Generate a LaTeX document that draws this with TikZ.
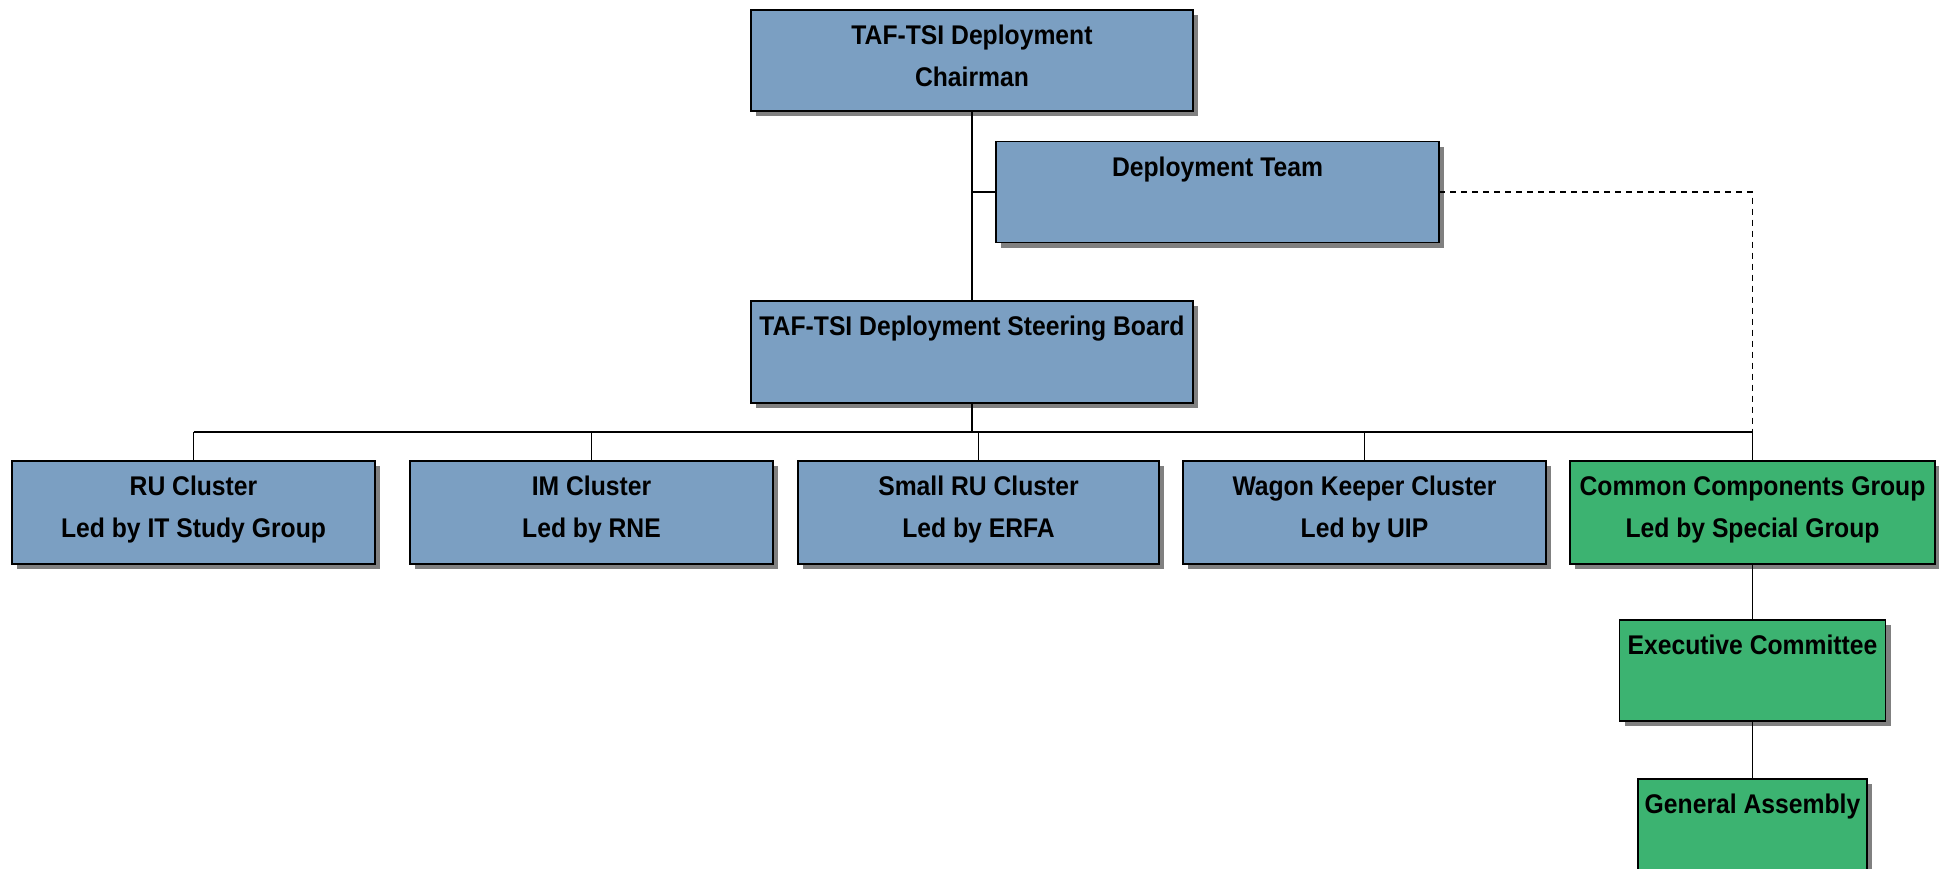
\documentclass[tikz,border=0pt]{standalone}
\usepackage{fontspec}
\setmainfont{Liberation Sans}[FakeStretch=0.915]
\usetikzlibrary{shadows}
\definecolor{boxblue}{RGB}{123,159,194}
\definecolor{boxgreen}{RGB}{60,179,113}
\tikzset{
  orgbox/.style={rectangle, draw=black, line width=1.5pt, inner sep=0pt, outer sep=0pt,
    drop shadow={shadow xshift=5pt, shadow yshift=-5pt, fill=black!50, opacity=1}},
  bluebox/.style={orgbox, fill=boxblue},
  greenbox/.style={orgbox, fill=boxgreen},
  lbl/.style={anchor=north, inner sep=0pt, yshift=-15pt, align=center},
  conn/.style={draw=black, line width=1.3pt},
  dashconn/.style={draw=black, line width=1.1pt, dash pattern=on 6pt off 5pt}
}
\begin{document}
\begin{tikzpicture}[x=1pt, y=-1pt, font=\fontsize{27}{42}\selectfont\bfseries]
\useasboundingbox (0,0) rectangle (1939,868);
\clip (0,0) rectangle (1939,868);
% top level
\node[bluebox, minimum width=442pt, minimum height=101pt,
  label={[lbl]north:{TAF-TSI Deployment\\Chairman}}] (chair) at (972,60.5) {};
\node[bluebox, minimum width=443pt, minimum height=101pt,
  label={[lbl]north:{Deployment Team}}] (team) at (1217.5,192) {};
\node[bluebox, minimum width=442pt, minimum height=102pt,
  label={[lbl]north:{TAF-TSI Deployment Steering Board}}] (board) at (972,352) {};
% clusters
\node[bluebox, minimum width=363pt, minimum height=103pt,
  label={[lbl]north:{RU Cluster\\Led by IT Study Group}}] (ru) at (193.5,512.5) {};
\node[bluebox, minimum width=363pt, minimum height=103pt,
  label={[lbl]north:{IM Cluster\\Led by RNE}}] (im) at (591.5,512.5) {};
\node[bluebox, minimum width=361pt, minimum height=103pt,
  label={[lbl]north:{Small RU Cluster\\Led by ERFA}}] (small) at (978.5,512.5) {};
\node[bluebox, minimum width=363pt, minimum height=103pt,
  label={[lbl]north:{Wagon Keeper Cluster\\Led by UIP}}] (wagon) at (1364.5,512.5) {};
\node[greenbox, minimum width=365pt, minimum height=103pt,
  label={[lbl]north:{Common Components Group\\Led by Special Group}}] (ccg) at (1752.5,512.5) {};
% green chain
\node[greenbox, minimum width=266pt, minimum height=101pt,
  label={[lbl]north:{Executive Committee}}] (exec) at (1752.5,670.5) {};
\node[greenbox, minimum width=229pt, minimum height=101pt,
  label={[lbl]north:{General Assembly}}] (ga) at (1752.5,829.5) {};
% connectors
\coordinate (busy) at (0,432);
\draw[conn] (chair.south) -- (board.north);
\draw[conn] (chair.south |- team.west) -- (team.west);
\draw[conn] (board.south) -- (board.south |- busy);
\draw[conn] (ru.north |- busy) -- (ccg.north |- busy);
\foreach \n in {ru,im,small,wagon,ccg}
  \draw[conn] (\n.north) -- (\n.north |- busy);
\draw[dashconn] (team.east) -| (ccg.north);
\draw[conn] (ccg.south) -- (exec.north);
\draw[conn] (exec.south) -- (ga.north);
\end{tikzpicture}
\end{document}
